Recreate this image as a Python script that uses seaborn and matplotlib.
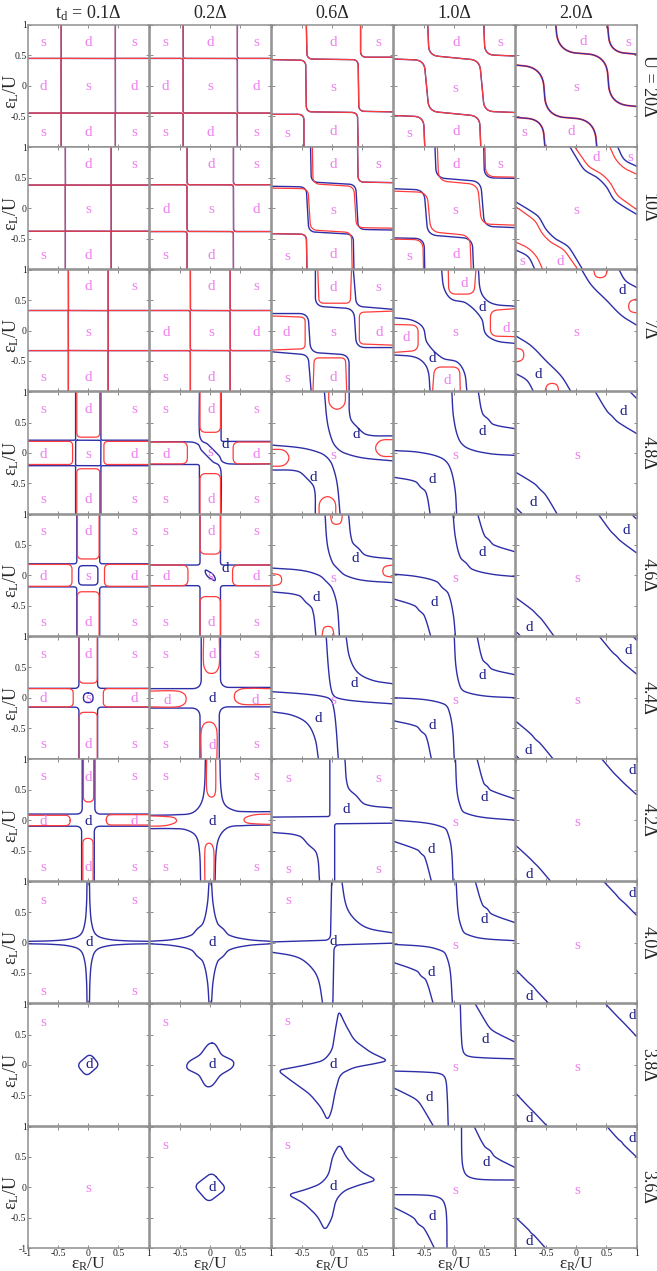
import numpy as np
import matplotlib
matplotlib.use("Agg")
import matplotlib.pyplot as plt
from matplotlib.path import Path
import seaborn as sns

sns.set_theme(style="white")
plt.rcParams['font.family'] = ['Liberation Serif', 'DejaVu Serif']
plt.rcParams['mathtext.fontset'] = 'custom'
plt.rcParams['mathtext.rm'] = 'Liberation Serif'
plt.rcParams['mathtext.it'] = 'Liberation Serif:italic'

# ---------------- texts ----------------
COL_TITLES = [r"t$_\mathregular{d}$ = 0.1Δ", "0.2Δ", "0.6Δ", "1.0Δ", "2.0Δ"]
ROW_TITLES = ["U = 20Δ", "10Δ", "7Δ", "4.8Δ", "4.6Δ", "4.4Δ", "4.2Δ", "4.0Δ", "3.8Δ", "3.6Δ"]
XTICKS = [-1, -0.5, 0, 0.5, 1]
XTICK_TEXT = ["-1", "-0.5", "0", "0.5", "1"]

# curve = (colour, mode, rounding, mirrored-through-origin, points)
#   colour: 'b' blue, 'r' red, 'rb' red over blue, 'br' blue over red
#   mode: 'c' rounded polyline, 'cc' closed rounded polyline, 's' smooth, 'sc' closed smooth


def stair(a, r, col='rb'):
    return [(col, 'c', r, 1, [(-a, 1), (-a, a), (a, a), (a, -a), (1, -a)]),
            (col, 'c', r, 1, [(a, 1), (a, a), (1, a)])]


def arms(a, r, b=None):
    b = a if b is None else b
    return [('b', 'c', r, 1, [(-a, 1), (-a, a), (-1, a)]),
            ('b', 'c', r, 1, [(b, 1), (b, b), (1, b)])]


def nine(yt, ym, yb, xs=(-0.74, 0.0, 0.76)):
    g = [['s', 'd', 's'], ['d', 's', 'd'], ['s', 'd', 's']]
    out = []
    for j, y in enumerate((yt, ym, yb)):
        for i, x in enumerate(xs):
            out.append((x, y, g[j][i], 'p'))
    return out


# ---- U = 20 Delta
curves_U20 = {
    0: stair(0.45, 0.015),
    1: stair(0.45, 0.04),
    2: [('rb', 'c', 0.1, 1, [(-0.43, 1), (-0.42, 0.44), (0.43, 0.43), (0.44, -0.42), (1, -0.43)]),
        ('rb', 'c', 0.1, 1, [(0.47, 1), (0.47, 0.47), (1, 0.47)])],
    3: [('rb', 'c', 0.16, 1, [(-0.44, 1), (-0.42, 0.5), (0.42, 0.42), (0.5, -0.42), (1, -0.44)]),
        ('rb', 'c', 0.16, 1, [(0.49, 1), (0.51, 0.51), (1, 0.49)])],
    4: [('br', 'c', 0.32, 1, [(-0.34, 1), (-0.3, 0.56), (0.5, 0.5), (0.56, -0.3), (1, -0.34)]),
        ('br', 'c', 0.25, 1, [(0.52, 1), (0.56, 0.56), (1, 0.52)])],
}
labels_U20 = {
    0: nine(0.72, -0.02, -0.77),
    1: nine(0.72, -0.02, -0.77),
    2: [(0.02, 0.72, 'd', 'p'), (0.76, 0.72, 's', 'p'), (0.01, -0.03, 's', 'p'),
        (-0.74, -0.78, 's', 'p'), (0.02, -0.76, 'd', 'p')],
    3: [(0.03, 0.72, 'd', 'p'), (0.77, 0.72, 's', 'p'), (0.02, -0.04, 's', 'p'),
        (-0.74, -0.79, 's', 'p'), (0.03, -0.76, 'd', 'p')],
    4: [(0.12, 0.73, 'd', 'p'), (0.86, 0.72, 's', 'p'), (0.0, -0.03, 's', 'p'),
        (-0.86, -0.77, 's', 'p'), (-0.08, -0.76, 'd', 'p')],
}

# ---- U = 10 Delta
curves_U10 = {
    0: stair(0.38, 0.015),
    1: stair(0.385, 0.05),
    2: [('b', 'c', 0.12, 1, [(-0.36, 1), (-0.35, 0.43), (0.39, 0.39), (0.43, -0.35), (1, -0.36)]),
        ('r', 'c', 0.12, 1, [(-0.33, 1), (-0.32, 0.4), (0.36, 0.36), (0.4, -0.32), (1, -0.33)]),
        ('rb', 'c', 0.1, 1, [(0.42, 1), (0.43, 0.43), (1, 0.42)])],
    3: [('b', 'c', 0.16, 1, [(-0.32, 1), (-0.3, 0.5), (0.44, 0.44), (0.5, -0.3), (1, -0.32)]),
        ('r', 'c', 0.16, 1, [(-0.28, 1), (-0.26, 0.45), (0.39, 0.39), (0.45, -0.26), (1, -0.28)]),
        ('b', 'c', 0.16, 1, [(0.49, 1), (0.5, 0.5), (1, 0.49)]),
        ('r', 'c', 0.16, 1, [(0.51, 1), (0.52, 0.52), (1, 0.51)])],
    4: [('b', 's', 0, 1, [(-0.1, 1), (0.05, 0.75), (0.15, 0.62), (0.35, 0.5), (0.5, 0.35),
                          (0.62, 0.15), (0.75, 0.05), (1, -0.1)]),
        ('r', 's', 0, 1, [(-0.02, 1), (0.12, 0.8), (0.22, 0.68), (0.42, 0.56), (0.56, 0.42),
                          (0.68, 0.22), (0.8, 0.12), (1, -0.02)]),
        ('r', 's', 0, 1, [(0.56, 1), (0.66, 0.8), (0.8, 0.66), (1, 0.56)]),
        ('b', 's', 0, 1, [(0.69, 1), (0.8, 0.8), (1, 0.69)])],
}
labels_U10 = {
    0: [(0.0, 0.72, 'd', 'p'), (0.76, 0.72, 's', 'p'), (0.0, -0.03, 's', 'p'),
        (-0.74, -0.78, 's', 'p'), (0.0, -0.78, 'd', 'p')],
    1: [(0.02, 0.72, 'd', 'p'), (0.76, 0.72, 's', 'p'), (-0.73, -0.03, 'd', 'p'),
        (0.02, -0.03, 's', 'p'), (0.76, -0.03, 'd', 'p'), (-0.74, -0.78, 's', 'p'),
        (0.02, -0.78, 'd', 'p')],
    2: [(0.02, 0.72, 'd', 'p'), (0.76, 0.72, 's', 'p'), (0.01, -0.04, 's', 'p'),
        (-0.74, -0.79, 's', 'p'), (0.02, -0.76, 'd', 'p')],
    3: [(0.03, 0.72, 'd', 'p'), (0.77, 0.72, 's', 'p'), (0.02, -0.04, 's', 'p'),
        (-0.74, -0.79, 's', 'p'), (0.03, -0.76, 'd', 'p')],
    4: [(0.33, 0.84, 'd', 'p'), (0.9, 0.84, 's', 'p'), (0.0, -0.04, 's', 'p'),
        (-0.89, -0.87, 's', 'p'), (-0.27, -0.87, 'd', 'p')],
}

# ---- U = 7 Delta
curves_U7 = {
    0: stair(0.33, 0.015),
    1: stair(0.33, 0.04),
    2: [('b', 'c', 0.15, 1, [(-0.28, 1), (-0.28, 0.4), (0.36, 0.36), (0.4, -0.28), (1, -0.28)]),
        ('b', 'c', 0.12, 1, [(0.35, 1), (0.4, 0.4), (1, 0.35)]),
        ('r', 'c', 0.08, 1, [(-0.24, 1), (-0.22, 0.45), (0.3, 0.45), (0.32, 1)]),
        ('r', 'c', 0.08, 1, [(1, 0.32), (0.45, 0.3), (0.45, -0.22), (1, -0.24)])],
    3: [('b', 's', 0, 1, [(-0.21, 1), (-0.17, 0.7), (-0.05, 0.52), (0.2, 0.45), (0.45, 0.2),
                          (0.52, -0.05), (0.7, -0.17), (1, -0.21)]),
        ('b', 's', 0, 1, [(0.4, 1), (0.45, 0.62), (0.62, 0.45), (1, 0.4)]),
        ('r', 'c', 0.12, 1, [(-0.1, 1), (-0.09, 0.6), (0.33, 0.6), (0.36, 1)]),
        ('r', 'c', 0.12, 1, [(1, 0.36), (0.6, 0.33), (0.6, -0.09), (1, -0.1)])],
    4: [('b', 's', 0, 1, [(0.09, 1), (0.25, 0.75), (0.5, 0.5), (0.75, 0.25), (1, 0.09)]),
        ('b', 's', 0, 1, [(0.71, 1), (0.82, 0.82), (1, 0.71)]),
        ('r', 's', 0, 1, [(0.29, 1), (0.32, 0.9), (0.4, 0.87), (0.48, 0.9), (0.52, 1)]),
        ('r', 's', 0, 1, [(1, 0.52), (0.9, 0.48), (0.87, 0.4), (0.9, 0.32), (1, 0.29)])],
}
labels_U7 = {
    0: labels_U10[0],
    1: labels_U10[1],
    2: [(0.02, 0.71, 'd', 'p'), (0.76, 0.71, 's', 'p'), (-0.77, -0.04, 'd', 'p'),
        (0.01, -0.04, 's', 'p'), (0.78, -0.04, 'd', 'p'), (-0.74, -0.79, 's', 'p'),
        (0.02, -0.78, 'd', 'p')],
    3: [(0.17, 0.77, 'd', 'p'), (0.46, 0.38, 'd', 'b'), (0.87, 0.04, 'd', 'p'),
        (0.02, -0.04, 's', 'p'), (-0.8, -0.12, 'd', 'p'), (-0.36, -0.46, 'd', 'b'),
        (-0.12, -0.82, 'd', 'p')],
    4: [(0.76, 0.66, 'd', 'b'), (0.0, -0.04, 's', 'p'), (-0.63, -0.72, 'd', 'b')],
}

# ---- U = 4.8 Delta
curves_U48 = {
    0: arms(0.21, 0.03) + [
        ('b', 'cc', 0.03, 0, [(-0.21, 0.21), (0.21, 0.21), (0.21, -0.21), (-0.21, -0.21)]),
        ('r', 'c', 0.07, 1, [(-0.19, 1), (-0.19, 0.26), (0.19, 0.26), (0.19, 1)]),
        ('r', 'c', 0.07, 1, [(1, 0.19), (0.26, 0.19), (0.26, -0.19), (1, -0.19)])],
    1: [('b', 'c', 0.04, 1, [(0.18, 1), (0.18, 0.19), (1, 0.19)]),
        ('b', 's', 0, 1, [(-0.18, 1), (-0.18, 0.32), (-0.14, 0.2), (-0.05, 0.15), (0.05, 0.05),
                          (0.15, -0.05), (0.2, -0.14), (0.32, -0.18), (1, -0.18)]),
        ('r', 'c', 0.1, 1, [(-0.17, 1), (-0.17, 0.34), (0.17, 0.34), (0.17, 1)]),
        ('r', 'c', 0.1, 1, [(1, 0.18), (0.38, 0.18), (0.38, -0.18), (1, -0.18)])],
    2: [('b', 's', 0, 1, [(-0.13, 1), (-0.08, 0.5), (0.0, 0.2), (0.08, 0.08), (0.2, 0.0),
                          (0.5, -0.08), (1, -0.13)]),
        ('b', 's', 0, 1, [(0.28, 1), (0.3, 0.58), (0.42, 0.42), (0.58, 0.3), (1, 0.28)]),
        ('r', 's', 0, 1, [(-0.06, 1), (-0.04, 0.8), (0.08, 0.72), (0.2, 0.8), (0.22, 1)]),
        ('r', 's', 0, 1, [(1, -0.06), (0.8, -0.04), (0.72, 0.08), (0.8, 0.2), (1, 0.22)])],
    3: [('b', 's', 0, 1, [(-0.04, 1), (-0.01, 0.58), (0.08, 0.22), (0.22, 0.08), (0.58, -0.01),
                          (1, -0.04)]),
        ('b', 's', 0, 1, [(0.4, 1), (0.47, 0.65), (0.56, 0.56), (0.65, 0.47), (1, 0.4)])],
    4: [('b', 's', 0, 1, [(0.32, 1), (0.51, 0.69), (0.6, 0.6), (0.69, 0.51), (1, 0.32)]),
        ('b', 'c', 0.05, 1, [(0.9, 1), (0.95, 0.95), (1, 0.9)])],
}
labels_U48 = {
    0: nine(0.72, -0.02, -0.77),
    1: [(-0.74, 0.72, 's', 'p'), (0.02, 0.72, 'd', 'p'), (0.76, 0.72, 's', 'p'),
        (-0.73, -0.02, 'd', 'p'), (0.0, 0.0, 's', 'p'), (0.25, 0.14, 'd', 'b'),
        (0.76, -0.02, 'd', 'p'), (-0.74, -0.77, 's', 'p'), (0.02, -0.77, 'd', 'p'),
        (0.76, -0.77, 's', 'p')],
    2: [(0.4, 0.31, 'd', 'b'), (0.01, -0.04, 's', 'p'), (-0.31, -0.41, 'd', 'b')],
    3: [(0.46, 0.36, 'd', 'b'), (0.02, -0.04, 's', 'p'), (-0.36, -0.44, 'd', 'b')],
    4: [(0.78, 0.69, 'd', 'b'), (0.01, -0.04, 's', 'p'), (-0.71, -0.81, 'd', 'b')],
}

# ---- U = 4.6 Delta
curves_U46 = {
    0: arms(0.19, 0.05) + [
        ('b', 'cc', 0.07, 0, [(-0.16, 0.16), (0.16, 0.16), (0.16, -0.16), (-0.16, -0.16)]),
        ('r', 'c', 0.08, 1, [(-0.18, 1), (-0.18, 0.27), (0.18, 0.27), (0.18, 1)]),
        ('r', 'c', 0.08, 1, [(1, 0.18), (0.27, 0.18), (0.27, -0.18), (1, -0.18)])],
    1: arms(0.17, 0.05) + [
        ('b', 'sc', 0, 0, [(-0.08, 0.08), (-0.02, 0.06), (0.05, 0.01), (0.08, -0.08),
                           (0.02, -0.06), (-0.05, -0.01)]),
        ('r', 'c', 0.1, 1, [(-0.17, 1), (-0.17, 0.35), (0.17, 0.35), (0.17, 1)]),
        ('r', 'c', 0.1, 1, [(1, 0.17), (0.37, 0.17), (0.37, -0.17), (1, -0.17)])],
    2: [('b', 's', 0, 1, [(-0.12, 1), (-0.08, 0.5), (0.0, 0.22), (0.1, 0.1), (0.22, 0.0),
                          (0.5, -0.08), (1, -0.12)]),
        ('b', 's', 0, 1, [(0.27, 1), (0.33, 0.56), (0.44, 0.44), (0.56, 0.33), (1, 0.27)]),
        ('r', 's', 0, 1, [(-0.03, 1), (0.0, 0.87), (0.07, 0.84), (0.14, 0.87), (0.17, 1)]),
        ('r', 's', 0, 1, [(1, -0.03), (0.87, 0.0), (0.84, 0.07), (0.87, 0.14), (1, 0.17)])],
    3: [('b', 's', 0, 1, [(-0.02, 1), (0.02, 0.62), (0.1, 0.3), (0.2, 0.2), (0.3, 0.1),
                          (0.62, 0.02), (1, -0.02)]),
        ('b', 's', 0, 1, [(0.39, 1), (0.5, 0.66), (0.58, 0.58), (0.66, 0.5), (1, 0.39)])],
    4: [('b', 's', 0, 1, [(0.37, 1), (0.57, 0.73), (0.65, 0.65), (0.73, 0.57), (1, 0.37)]),
        ('b', 'c', 0.03, 1, [(0.93, 1), (0.96, 0.96), (1, 0.93)])],
}
labels_U46 = {
    0: nine(0.72, -0.02, -0.77),
    1: [(-0.74, 0.72, 's', 'p'), (0.02, 0.72, 'd', 'p'), (0.76, 0.72, 's', 'p'),
        (-0.73, -0.02, 'd', 'p'), (0.0, -0.02, 's', 'p'), (0.25, 0.12, 'd', 'b'),
        (0.76, -0.02, 'd', 'p'), (-0.74, -0.77, 's', 'p'), (0.02, -0.77, 'd', 'p'),
        (0.76, -0.77, 's', 'p')],
    2: [(0.38, 0.28, 'd', 'b'), (0.01, -0.05, 's', 'p'), (-0.26, -0.37, 'd', 'b')],
    3: [(0.46, 0.37, 'd', 'b'), (0.02, -0.05, 's', 'p'), (-0.34, -0.45, 'd', 'b')],
    4: [(0.83, 0.74, 'd', 'b'), (0.01, -0.05, 's', 'p'), (-0.78, -0.86, 'd', 'b')],
}

# ---- U = 4.4 Delta
curves_U44 = {
    0: arms(0.155, 0.07) + [
        ('b', 'cc', 0.08, 0, [(-0.08, 0.08), (0.08, 0.08), (0.08, -0.08), (-0.08, -0.08)]),
        ('r', 'c', 0.08, 1, [(-0.15, 1), (-0.15, 0.24), (0.15, 0.24), (0.15, 1)]),
        ('r', 'c', 0.08, 1, [(1, 0.15), (0.25, 0.15), (0.25, -0.15), (1, -0.15)])],
    1: [('b', 'c', 0.15, 1, [(-0.15, 1), (-0.15, 0.15), (-1, 0.15)]),
        ('b', 'c', 0.15, 1, [(0.17, 1), (0.17, 0.17), (1, 0.17)]),
        ('r', 's', 0, 1, [(-0.11, 1), (-0.11, 0.55), (-0.06, 0.43), (0.02, 0.4), (0.1, 0.43),
                          (0.15, 0.55), (0.15, 1)]),
        ('r', 's', 0, 1, [(1, -0.11), (0.55, -0.11), (0.43, -0.06), (0.4, 0.02), (0.43, 0.1),
                          (0.55, 0.15), (1, 0.15)])],
    2: [('b', 's', 0, 1, [(-0.1, 1), (-0.06, 0.45), (-0.02, 0.15), (0.03, 0.03), (0.15, -0.02),
                          (0.45, -0.06), (1, -0.1)]),
        ('b', 's', 0, 1, [(0.23, 1), (0.29, 0.66), (0.42, 0.42), (0.66, 0.29), (1, 0.23)])],
    3: [('b', 's', 0, 1, [(0.0, 1), (0.03, 0.5), (0.1, 0.18), (0.18, 0.1), (0.5, 0.03), (1, 0.0)]),
        ('b', 's', 0, 1, [(0.38, 1), (0.47, 0.63), (0.55, 0.55), (0.63, 0.47), (1, 0.38)])],
    4: [('b', 's', 0, 1, [(0.39, 1), (0.6, 0.75), (0.68, 0.68), (0.75, 0.6), (1, 0.39)]),
        ('b', 'c', 0.02, 1, [(0.95, 1), (0.975, 0.975), (1, 0.95)])],
}
labels_U44 = {
    0: nine(0.72, -0.02, -0.77),
    1: [(-0.74, 0.72, 's', 'p'), (0.03, 0.71, 'd', 'p'), (0.76, 0.72, 's', 'p'),
        (-0.72, -0.04, 'd', 'p'), (0.03, -0.01, 'd', 'b'), (0.75, -0.04, 'd', 'p'),
        (-0.74, -0.77, 's', 'p'), (0.03, -0.79, 'd', 'p'), (0.76, -0.77, 's', 'p')],
    2: [(0.36, 0.24, 'd', 'b'), (0.01, -0.04, 's', 'p'), (-0.24, -0.34, 'd', 'b')],
    3: [(0.46, 0.37, 'd', 'b'), (0.02, -0.04, 's', 'p'), (-0.36, -0.46, 'd', 'b')],
    4: [(0.87, 0.77, 'd', 'b'), (0.01, -0.04, 's', 'p'), (-0.79, -0.87, 'd', 'b')],
}

# ---- U = 4.2 Delta
curves_U42 = {
    0: [('b', 'c', 0.1, 1, [(-0.1, 1), (-0.1, 0.1), (-1, 0.1)]),
        ('b', 'c', 0.1, 1, [(0.11, 1), (0.11, 0.1), (1, 0.1)]),
        ('r', 'c', 0.085, 1, [(-0.08, 1), (-0.08, 0.3), (0.09, 0.3), (0.09, 1)]),
        ('r', 'c', 0.085, 1, [(1, 0.09), (0.3, 0.09), (0.3, -0.08), (1, -0.08)])],
    1: [('b', 's', 0, 1, [(-0.08, 1), (-0.1, 0.5), (-0.16, 0.26), (-0.3, 0.12), (-0.55, 0.09),
                          (-1, 0.08)]),
        ('b', 's', 0, 1, [(0.16, 1), (0.18, 0.5), (0.24, 0.26), (0.4, 0.16), (0.6, 0.14),
                          (1, 0.14)]),
        ('r', 's', 0, 1, [(-0.06, 1), (-0.06, 0.52), (-0.03, 0.41), (0.02, 0.38), (0.07, 0.41),
                          (0.09, 0.52), (0.09, 1)]),
        ('r', 's', 0, 1, [(1, 0.1), (0.75, 0.09), (0.6, 0.05), (0.56, 0.01), (0.6, -0.04),
                          (0.75, -0.06), (1, -0.07)])],
    2: [('b', 'c', 0.04, 1, [(-0.04, 1), (-0.04, 0.06), (-1, 0.05)]),
        ('b', 's', 0, 1, [(0.21, 1), (0.26, 0.55), (0.4, 0.4), (0.55, 0.26), (1, 0.2)])],
    3: [('b', 's', 0, 1, [(0.02, 1), (0.05, 0.45), (0.12, 0.18), (0.18, 0.12), (0.45, 0.05),
                          (1, 0.0)]),
        ('b', 's', 0, 1, [(0.38, 1), (0.49, 0.61), (0.55, 0.55), (0.61, 0.49), (1, 0.35)])],
    4: [('b', 's', 0, 1, [(0.43, 1), (0.62, 0.78), (0.7, 0.7), (0.78, 0.62), (1, 0.42)])],
}
labels_U42 = {
    0: [(-0.74, 0.72, 's', 'p'), (0.0, 0.71, 'd', 'p'), (0.76, 0.72, 's', 'p'),
        (-0.74, -0.03, 'd', 'p'), (0.0, -0.02, 'd', 'b'), (0.76, -0.03, 'd', 'p'),
        (-0.74, -0.78, 's', 'p'), (0.0, -0.78, 'd', 'p'), (0.76, -0.78, 's', 'p')],
    1: [(-0.74, 0.72, 's', 'p'), (0.76, 0.72, 's', 'p'), (0.03, -0.02, 'd', 'b'),
        (-0.74, -0.78, 's', 'p'), (0.76, -0.78, 's', 'p')],
    2: [(-0.73, 0.69, 's', 'p'), (0.76, 0.69, 's', 'p'), (0.23, 0.18, 'd', 'b'),
        (-0.73, -0.81, 's', 'p'), (0.76, -0.81, 's', 'p')],
    3: [(0.49, 0.38, 'd', 'b'), (0.02, -0.04, 's', 'p'), (-0.38, -0.49, 'd', 'b')],
    4: [(0.93, 0.81, 'd', 'b'), (0.01, -0.04, 's', 'p'), (-0.78, -0.89, 'd', 'b')],
}

# ---- U = 4.0 Delta
curves_U40 = {
    0: [('b', 's', 0, 1, [(-0.02, 1), (-0.03, 0.6), (-0.06, 0.3), (-0.13, 0.13), (-0.3, 0.06),
                          (-0.6, 0.03), (-1, 0.02)]),
        ('b', 's', 0, 1, [(0.02, 1), (0.03, 0.6), (0.06, 0.3), (0.13, 0.13), (0.3, 0.06),
                          (0.6, 0.03), (1, 0.02)])],
    1: [('b', 's', 0, 1, [(-0.02, 1), (-0.05, 0.62), (-0.12, 0.32), (-0.22, 0.22), (-0.32, 0.12),
                          (-0.62, 0.05), (-1, 0.02)]),
        ('b', 's', 0, 1, [(0.02, 1), (0.05, 0.62), (0.12, 0.32), (0.22, 0.22), (0.32, 0.12),
                          (0.62, 0.05), (1, 0.02)])],
    2: [('b', 'c', 0.1, 1, [(-0.01, 1), (-0.03, 0.04), (-1, 0.01)]),
        ('b', 's', 0, 1, [(0.16, 1), (0.22, 0.65), (0.3, 0.47), (0.47, 0.3), (0.65, 0.22),
                          (1, 0.16)])],
    3: [('b', 's', 0, 1, [(0.03, 1), (0.07, 0.45), (0.14, 0.2), (0.2, 0.14), (0.45, 0.07),
                          (1, 0.03)]),
        ('b', 's', 0, 1, [(0.35, 1), (0.47, 0.62), (0.55, 0.55), (0.62, 0.47), (1, 0.33)])],
    4: [('b', 's', 0, 1, [(0.46, 1), (0.65, 0.8), (0.72, 0.72), (0.8, 0.65), (1, 0.45)])],
}
labels_U40 = {
    0: [(-0.74, 0.7, 's', 'p'), (0.76, 0.7, 's', 'p'), (0.02, 0.0, 'd', 'b'),
        (-0.74, -0.8, 's', 'p'), (0.76, -0.8, 's', 'p')],
    1: [(0.03, 0.0, 'd', 'b')],
    2: [(-0.73, 0.7, 's', 'p'), (0.02, 0.01, 'd', 'b')],
    3: [(0.49, 0.38, 'd', 'b'), (0.02, -0.05, 's', 'p'), (-0.38, -0.49, 'd', 'b')],
    4: [(0.93, 0.81, 'd', 'b'), (0.01, -0.05, 's', 'p'), (-0.78, -0.88, 'd', 'b')],
}

# ---- U = 3.8 Delta
curves_U38 = {
    0: [('b', 'cc', 0.09, 0, [(0.03, 0.19), (0.19, 0.0), (-0.03, -0.19), (-0.19, 0.0)])],
    1: [('b', 'sc', 0, 0, [(0.03, 0.36), (0.19, 0.17), (0.39, 0.02), (0.17, -0.17),
                           (-0.03, -0.36), (-0.19, -0.17), (-0.39, -0.02), (-0.17, 0.17)])],
    2: [('b', 'cc', 0.1, 0, [(0.11, 0.9), (0.2, 0.7), (0.36, 0.41), (0.63, 0.21), (0.93, 0.07),
                             (0.7, 0.02), (0.36, -0.04), (0.13, -0.15), (0.05, -0.43),
                             (-0.01, -0.76), (-0.08, -0.92), (-0.17, -0.72), (-0.37, -0.48),
                             (-0.64, -0.29), (-0.91, -0.09), (-0.48, -0.01), (-0.14, 0.07),
                             (0.0, 0.24), (0.05, 0.57)])],
    3: [('b', 's', 0, 1, [(0.1, 1), (0.12, 0.45), (0.15, 0.22), (0.22, 0.15), (0.45, 0.12),
                          (1, 0.1)]),
        ('b', 's', 0, 1, [(0.35, 1), (0.54, 0.68), (0.6, 0.6), (0.68, 0.54), (1, 0.38)])],
    4: [('b', 's', 0, 1, [(0.49, 1), (0.68, 0.8), (0.74, 0.74), (0.8, 0.68), (1, 0.47)])],
}
labels_U38 = {
    0: [(-0.74, 0.7, 's', 'p'), (0.02, 0.0, 'd', 'b')],
    1: [(-0.74, 0.7, 's', 'p'), (0.03, 0.0, 'd', 'b')],
    2: [(-0.74, 0.71, 's', 'p'), (0.02, 0.01, 'd', 'b')],
    3: [(0.52, 0.42, 'd', 'b'), (0.02, -0.05, 's', 'p'), (-0.42, -0.53, 'd', 'b')],
    4: [(0.93, 0.81, 'd', 'b'), (0.01, -0.05, 's', 'p'), (-0.78, -0.88, 'd', 'b')],
}

# ---- U = 3.6 Delta
curves_U36 = {
    0: [],
    1: [('b', 'cc', 0.1, 0, [(0.03, 0.25), (0.27, -0.02), (-0.03, -0.25), (-0.27, 0.02)])],
    2: [('b', 'cc', 0.1, 0, [(0.12, 0.72), (0.24, 0.48), (0.47, 0.26), (0.74, 0.12),
                             (0.45, 0.04), (0.2, -0.05), (0.06, -0.2), (0.0, -0.5),
                             (-0.12, -0.72), (-0.24, -0.48), (-0.47, -0.26), (-0.74, -0.12),
                             (-0.45, -0.04), (-0.2, 0.05), (-0.06, 0.2), (0.0, 0.5)])],
    3: [('b', 's', 0, 1, [(0.12, 1), (0.13, 0.45), (0.17, 0.25), (0.25, 0.17), (0.45, 0.13),
                          (1, 0.12)]),
        ('b', 's', 0, 1, [(0.33, 1), (0.5, 0.68), (0.6, 0.6), (0.68, 0.5), (1, 0.33)])],
    4: [('b', 's', 0, 1, [(0.51, 1), (0.7, 0.79), (0.75, 0.75), (0.79, 0.7), (1, 0.5)])],
}
labels_U36 = {
    0: [(0.0, -0.02, 's', 'p')],
    1: [(-0.74, 0.69, 's', 'p'), (0.03, 0.0, 'd', 'b')],
    2: [(-0.74, 0.69, 's', 'p'), (0.02, 0.01, 'd', 'b')],
    3: [(0.53, 0.41, 'd', 'b'), (0.02, -0.06, 's', 'p'), (-0.37, -0.48, 'd', 'b')],
    4: [(0.93, 0.8, 'd', 'b'), (0.01, -0.06, 's', 'p'), (-0.78, -0.89, 'd', 'b')],
}

ROWS_CURVES = [curves_U20, curves_U10, curves_U7, curves_U48, curves_U46,
               curves_U44, curves_U42, curves_U40, curves_U38, curves_U36]
ROWS_LABELS = [labels_U20, labels_U10, labels_U7, labels_U48, labels_U46,
               labels_U44, labels_U42, labels_U40, labels_U38, labels_U36]

# ---------------- styling ----------------
BLUE = '#2e2ea8'
RED = '#ff3b3b'
PINK = '#ee7fee'
NAVY = '#1c1c88'
SPINE = '#8f8f8f'


def corner_path(pts, r, closed=False):
    P = np.asarray(pts, float)
    n = len(P)

    def seg(i, j):
        d = P[j] - P[i]
        L = np.hypot(*d)
        return d / L, L
    verts, codes = [], []
    if not closed:
        verts.append(P[0]); codes.append(Path.MOVETO)
        for i in range(1, n - 1):
            u1, L1 = seg(i - 1, i)
            u2, L2 = seg(i, i + 1)
            lim1 = L1 if i - 1 == 0 else L1 / 2
            lim2 = L2 if i + 1 == n - 1 else L2 / 2
            rr = min(r, lim1, lim2)
            verts += [P[i] - u1 * rr, P[i], P[i] + u2 * rr]
            codes += [Path.LINETO, Path.CURVE3, Path.CURVE3]
        verts.append(P[-1]); codes.append(Path.LINETO)
    else:
        ins, outs = [], []
        for i in range(n):
            u1, L1 = seg(i - 1, i)
            u2, L2 = seg(i, (i + 1) % n)
            rr = min(r, L1 / 2, L2 / 2)
            ins.append(P[i] - u1 * rr)
            outs.append(P[i] + u2 * rr)
        verts.append(outs[0]); codes.append(Path.MOVETO)
        for k in list(range(1, n)) + [0]:
            verts += [ins[k], P[k], outs[k]]
            codes += [Path.LINETO, Path.CURVE3, Path.CURVE3]
    return Path(np.array(verts), codes)


def smooth_path(pts, closed=False):
    P = np.asarray(pts, float)
    n = len(P)
    T = np.zeros_like(P)
    for i in range(n):
        if closed:
            d = P[(i + 1) % n] - P[i - 1]
        elif i == 0:
            d = P[1] - P[0]
        elif i == n - 1:
            d = P[-1] - P[-2]
        else:
            d = P[i + 1] - P[i - 1]
        T[i] = d / np.hypot(*d)
    verts, codes = [P[0]], [Path.MOVETO]
    m = n if closed else n - 1
    for i in range(m):
        j = (i + 1) % n
        L = np.hypot(*(P[j] - P[i]))
        verts += [P[i] + T[i] * L / 3, P[j] - T[j] * L / 3, P[j]]
        codes += [Path.CURVE4] * 3
    return Path(np.array(verts), codes)


def flatten(path):
    out = []
    t = np.linspace(0, 1, 18)
    for segm, code in path.iter_bezier():
        out.append(segm(t))
    return np.vstack(out)


def draw_line(ax, xy, color, lw):
    sns.lineplot(x=xy[:, 0], y=xy[:, 1], sort=False, estimator=None, errorbar=None,
                 color=color, linewidth=lw, ax=ax)


def draw_curve(ax, cv):
    col, mode, r, sym, pts = cv
    if mode in ('c', 'cc'):
        path = corner_path(pts, r, closed=(mode == 'cc'))
    else:
        path = smooth_path(pts, closed=(mode == 'sc'))
    xy = flatten(path)
    copies = [xy, -xy] if sym else [xy]
    for c in copies:
        if col == 'rb':
            draw_line(ax, c, BLUE, 1.0)
            draw_line(ax, c, RED, 0.85)
        elif col == 'br':
            draw_line(ax, c, RED, 1.3)
            draw_line(ax, c, BLUE, 0.75)
        elif col == 'b':
            draw_line(ax, c, BLUE, 1.0)
        else:
            draw_line(ax, c, RED, 0.9)


W, H = 657, 1271
fig = plt.figure(figsize=(W / 100, H / 100), dpi=100)

X0, PX, PW = 28, 122, 120.5
Y0, PY, PH = 25, 122.4, 121.5

for r in range(10):
    for c in range(5):
        left = (X0 + PX * c) / W
        bottom = 1 - (Y0 + PY * r + PH) / H
        ax = fig.add_axes([left, bottom, PW / W, PH / H])
        curves = ROWS_CURVES[r][c]
        order = [cv for cv in curves if cv[0] == 'b'] + [cv for cv in curves if cv[0] != 'b']
        for cv in order:
            draw_curve(ax, cv)
        for (x, y, t, kind) in ROWS_LABELS[r][c]:
            ax.text(x, y, t, color=PINK if kind == 'p' else NAVY, fontsize=11,
                    ha='center', va='center')
        ax.set_xlim(-1, 1)
        ax.set_ylim(-1, 1)
        ax.set_xticks(XTICKS)
        ax.set_yticks(XTICKS)
        ax.tick_params(direction='in', length=2.5, width=0.6, colors='#777777',
                       top=True, right=True, bottom=True, left=True, labelsize=7, pad=1,
                       labelcolor='#222222')
        if r == 9:
            ax.set_xticklabels([XTICK_TEXT[0] if c == 0 else ''] + XTICK_TEXT[1:])
        else:
            ax.set_xticklabels([])
        if c == 0:
            ax.set_yticklabels([XTICK_TEXT[0] if r == 9 else ''] + XTICK_TEXT[1:])
        else:
            ax.set_yticklabels([])
        ax.set_xlabel('')
        ax.set_ylabel('')
        for s in ax.spines.values():
            s.set_color(SPINE)
            s.set_linewidth(1.1)

        if c == 0:
            fig.text(11 / W, 1 - (Y0 + PY * r + PH / 2 + 5) / H, "ε$_\\mathregular{L}$/U",
                     rotation=90, ha='center', va='center', fontsize=13)
        if c == 4:
            fig.text(648 / W, 1 - (Y0 + PY * r + PH / 2) / H, ROW_TITLES[r],
                     rotation=270, ha='center', va='center', fontsize=13)
        if r == 0:
            fig.text((X0 + PX * c + PW / 2) / W, 1 - 13 / H, COL_TITLES[c],
                     ha='center', va='center', fontsize=13)
        if r == 9:
            fig.text((X0 + PX * c + PW / 2) / W, 1 - 1264 / H, "ε$_\\mathregular{R}$/U",
                     ha='center', va='center', fontsize=12.5)

fig.savefig('out.png', dpi=100)
